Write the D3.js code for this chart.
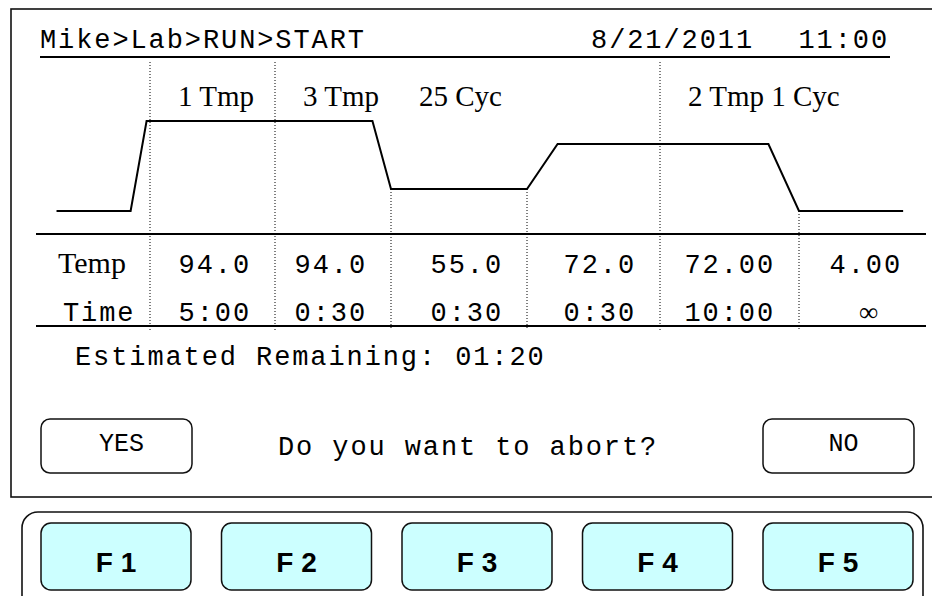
<!DOCTYPE html>
<html>
<head>
<meta charset="utf-8">
<title>Run screen</title>
<script src="https://d3js.org/d3.v7.min.js"></script>
<style>
  body { margin: 0; background: #fff; }
  text { white-space: pre; }
</style>
</head>
<body>
<div id="chart"></div>
<script>
const w = 932, h = 596;

// header
const pathLabel = "Mike>Lab>RUN>START";
const dateLabel = "8/21/2011";
const clockLabel = "11:00";

// steps of the run
const steps = [0, 1, 2, 3, 4, 5];
const stepTemps = ["94.0", "94.0", "55.0", "72.0", "72.00", "4.00"];
const stepTimes = ["5:00", "0:30", "0:30", "0:30", "10:00", "\u221E"];

// segment headers and the step they sit over
const segLabels = ["1 Tmp", "3 Tmp", "25 Cyc", "2 Tmp 1 Cyc"];
const segAt = [0, 1, 2, 4];
const segStarts = [0, 1, 4];   // separators that run full height

// temperature profile (x in step units, y in deg C)
const profStep = [-0.82, -0.17, -0.03, 1.84, 2, 3, 3.23, 4.78, 5, 5.82];
const profTemp = [4, 4, 94, 94, 55, 55, 72, 72, 4, 4];

const remaining = "Estimated Remaining: 01:20";
const question = "Do you want to abort?";
const answers = ["YES", "NO"];
const fKeys = ["F 1", "F 2", "F 3", "F 4", "F 5"];

const mono = "'Courier New', 'Liberation Mono', monospace";
const serif = "'Times New Roman', 'Liberation Serif', serif";
const sans = "Arial, 'Liberation Sans', sans-serif";
const monoSize = 27, monoGap = 1.9;

// scales
let x = d3.scaleLinear()
    .domain([-1, 0, 1, 2, 3, 4, 5, 6])
    .range([36, 150, 275, 391, 527, 660, 799, 926]);

let y = d3.scaleLinear()
    .domain([4, 55, 72, 94])
    .range([211, 189, 144, 121]);

let fx = d3.scaleBand()
    .domain(fKeys)
    .range([41, 913])
    .paddingInner(0.169);

let svg = d3.select("#chart")
    .append("svg")
    .attr("width", w)
    .attr("height", h);

function tempAt(s) {
    let i = d3.bisectLeft(profStep, s);
    if (profStep[i] === s) return profTemp[i];
    let t = (s - profStep[i - 1]) / (profStep[i] - profStep[i - 1]);
    return profTemp[i - 1] + t * (profTemp[i] - profTemp[i - 1]);
}

function monoText(sel) {
    return sel.attr("font-family", mono)
        .attr("font-size", monoSize)
        .attr("letter-spacing", monoGap);
}

// screen frame
svg.append("rect")
    .attr("x", 11).attr("y", 9)
    .attr("width", 940).attr("height", 488)
    .attr("fill", "none")
    .attr("stroke", "#111")
    .attr("stroke-width", 1.6);

// header
svg.append("text")
    .attr("x", 40).attr("y", 48)
    .call(monoText)
    .text(pathLabel);

svg.append("text")
    .attr("x", 754).attr("y", 48)
    .attr("text-anchor", "end")
    .call(monoText)
    .text(dateLabel);

svg.append("text")
    .attr("x", 889).attr("y", 48)
    .attr("text-anchor", "end")
    .call(monoText)
    .text(clockLabel);

svg.append("line")
    .attr("x1", 40).attr("x2", 890)
    .attr("y1", 57).attr("y2", 57)
    .attr("stroke", "#000").attr("stroke-width", 2);

// step separators (dotted)
svg.selectAll(".sep")
    .data(steps)
    .enter()
    .append("line")
    .attr("class", "sep")
    .attr("x1", d => x(d)).attr("x2", d => x(d))
    .attr("y1", d => segStarts.includes(d) ? 62 : y(tempAt(d)))
    .attr("y2", 330)
    .attr("stroke", "#000")
    .attr("stroke-width", 1)
    .attr("stroke-dasharray", "1,2");

// segment labels
svg.selectAll(".seg")
    .data(segLabels)
    .enter()
    .append("text")
    .attr("class", "seg")
    .attr("x", (d, i) => x(segAt[i]) + 28)
    .attr("y", 106)
    .attr("font-family", serif).attr("font-size", 29)
    .text(d => d);

// profile line
let line = d3.line()
    .x((d, i) => x(profStep[i]))
    .y(d => y(d));

svg.append("path")
    .datum(profTemp)
    .attr("d", line)
    .attr("fill", "none")
    .attr("stroke", "#000")
    .attr("stroke-width", 2);

// table rules
svg.selectAll(".rule")
    .data([234, 326])
    .enter()
    .append("line")
    .attr("x1", 36).attr("x2", 926)
    .attr("y1", d => d).attr("y2", d => d)
    .attr("stroke", "#000").attr("stroke-width", 2);

// row labels
svg.append("text")
    .attr("x", 58).attr("y", 273)
    .attr("font-family", serif).attr("font-size", 30)
    .text("Temp");

svg.append("text")
    .attr("x", 63).attr("y", 321)
    .call(monoText)
    .text("Time");

// table values
svg.selectAll(".temp")
    .data(stepTemps)
    .enter()
    .append("text")
    .attr("class", "temp")
    .attr("x", (d, i) => x(i + 1) - 24)
    .attr("y", 273)
    .attr("text-anchor", "end")
    .call(monoText)
    .text(d => d);

let isNum = d => !isNaN(parseFloat(d));

svg.selectAll(".time")
    .data(stepTimes)
    .enter()
    .append("text")
    .attr("class", "time")
    .attr("x", (d, i) => isNum(d) ? x(i + 1) - 24 : (x(i) + x(i + 1)) / 2 + 6)
    .attr("y", 321)
    .attr("text-anchor", d => isNum(d) ? "end" : "middle")
    .attr("font-family", d => isNum(d) ? mono : serif)
    .attr("font-size", monoSize)
    .attr("letter-spacing", d => isNum(d) ? monoGap : 0)
    .text(d => d);

// remaining time
svg.append("text")
    .attr("x", 75).attr("y", 365)
    .call(monoText)
    .text(remaining);

// abort question and answer buttons
svg.append("text")
    .attr("x", 278).attr("y", 455)
    .call(monoText)
    .text(question);

let ax = d3.scalePoint().domain(answers).range([116.5, 838.5]);

let ans = svg.selectAll(".ans")
    .data(answers)
    .enter()
    .append("g")
    .attr("class", "ans")
    .attr("transform", d => `translate(${ax(d)},0)`);

ans.append("rect")
    .attr("x", -75.5).attr("y", 419)
    .attr("width", 151).attr("height", 54)
    .attr("rx", 9)
    .attr("fill", "#fff")
    .attr("stroke", "#111").attr("stroke-width", 1.5);

ans.append("text")
    .attr("x", 5).attr("y", 451)
    .attr("text-anchor", "middle")
    .attr("font-family", mono).attr("font-size", 25)
    .text(d => d);

// function key panel
svg.append("rect")
    .attr("x", 22).attr("y", 512)
    .attr("width", 901).attr("height", 110)
    .attr("rx", 16)
    .attr("fill", "none")
    .attr("stroke", "#111").attr("stroke-width", 1.6);

let keys = svg.selectAll(".fkey")
    .data(fKeys)
    .enter()
    .append("g")
    .attr("class", "fkey");

keys.append("rect")
    .attr("x", d => fx(d)).attr("y", 523)
    .attr("width", fx.bandwidth()).attr("height", 67)
    .attr("rx", 10)
    .attr("fill", "#ccffff")
    .attr("stroke", "#111").attr("stroke-width", 1.5);

keys.append("text")
    .attr("x", d => fx(d) + fx.bandwidth() / 2)
    .attr("y", 572)
    .attr("text-anchor", "middle")
    .attr("font-family", sans).attr("font-size", 28)
    .attr("font-weight", "bold")
    .text(d => d);
</script>
</body>
</html>
